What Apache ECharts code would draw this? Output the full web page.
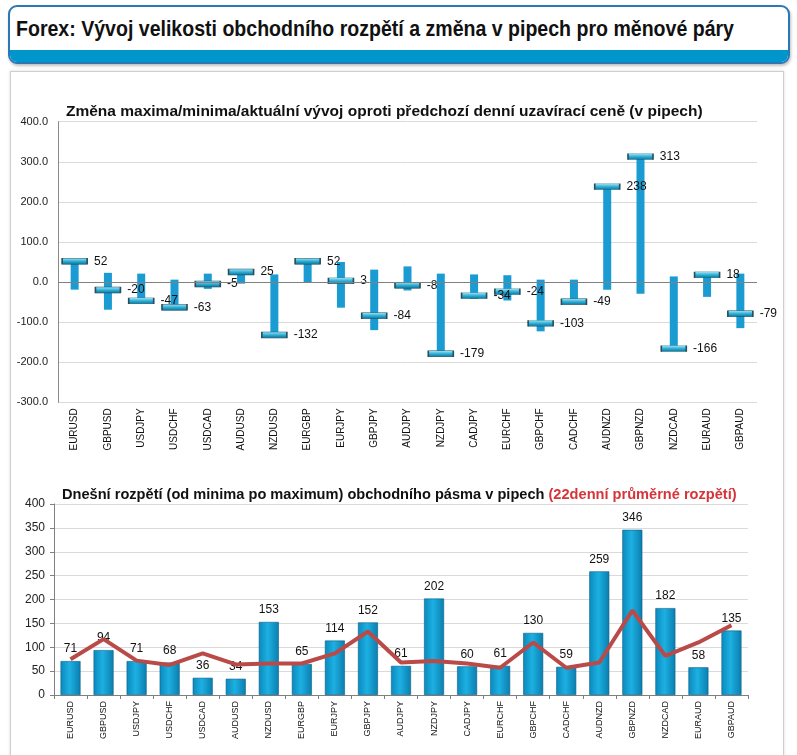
<!DOCTYPE html>
<html>
<head>
<meta charset="utf-8">
<script src="https://cdn.jsdelivr.net/npm/echarts@6/dist/echarts.min.js"></script>
<style>
  html, body { margin: 0; padding: 0; width: 797px; height: 755px; overflow: hidden; background: #fff; font-family: "Liberation Sans", Arial, sans-serif; }
  #header { position: absolute; left: 8px; top: 5px; width: 778px; height: 55px; border: 2px solid #2a78b6; border-radius: 9px; background: #fff; overflow: hidden; box-shadow: 1px 2px 3px rgba(0,0,0,0.25); }
  #header .band { position: absolute; left: 0; right: 0; bottom: 0; height: 12px; background: #0096cc; }
  #header .txt { position: absolute; left: 6px; top: 9px; font-family: "Liberation Sans Narrow", "Liberation Sans", Arial, sans-serif; font-weight: bold; font-size: 22px; color: #111; white-space: nowrap; transform-origin: left top; }
  #panel { position: absolute; left: 10px; top: 71px; width: 772px; height: 700px; border: 1px solid #cfcfcf; box-shadow: 0 0 3px rgba(0,0,0,0.15); background: #fff; }
  #chart { position: absolute; left: 0; top: 0; width: 797px; height: 755px; }
</style>
</head>
<body>
<div id="header"><div class="txt" id="htxt">Forex: Vývoj velikosti obchodního rozpětí a změna v pipech pro měnové páry</div><div class="band"></div></div>
<div id="panel"></div>
<div id="chart"></div>
<script>
// ---- data ----
const categories = ['EURUSD','GBPUSD','USDJPY','USDCHF','USDCAD','AUDUSD','NZDUSD','EURGBP','EURJPY','GBPJPY','AUDJPY','NZDJPY','CADJPY','EURCHF','GBPCHF','CADCHF','AUDNZD','GBPNZD','NZDCAD','EURAUD','GBPAUD'];
const highs    = [55, 23, 21, 6, 21, 28, 19, 58, 50, 31, 39, 21, 19, 17, 6, 6, 241, 315, 14, 21, 21];
const lows     = [-19, -69, -50, -65, -17, -4, -135, -2, -64, -120, -21, -182, -42, -46, -123, -52, -19, -29, -168, -37, -115];
const currents = [52, -20, -47, -63, -5, 25, -132, 52, 3, -84, -8, -179, -34, -24, -103, -49, 238, 313, -166, 18, -79];
const ranges   = [71, 94, 71, 68, 36, 34, 153, 65, 114, 152, 61, 202, 60, 61, 130, 59, 259, 346, 182, 58, 135];
const avg22    = [75, 117, 72, 63, 87, 64, 66, 66, 87, 133, 68, 71, 66, 57, 110, 57, 68, 177, 82, 110, 146];
const topTicks = { min: -300, max: 400, interval: 100 };
const botTicks = { min: 0, max: 400, interval: 50 };

// fit header text width
(function(){
  const el = document.getElementById('htxt');
  const w = el.getBoundingClientRect().width;
  const target = 718;
  el.style.transform = 'scaleX(' + (target / w) + ')';
})();

const font = '"Liberation Sans", Arial, sans-serif';
const chart = echarts.init(document.getElementById('chart'), null, { renderer: 'canvas' });

const rangeData = categories.map((c, i) => [i, lows[i], highs[i]]);
const curData = categories.map((c, i) => [i, currents[i]]);

const option = {
  backgroundColor: 'transparent',
  animation: false,
  textStyle: { fontFamily: font },
  title: [
    { text: 'Změna maxima/minima/aktuální vývoj oproti předchozí denní uzavírací ceně (v pipech)', left: 61, top: 99,
      textStyle: { fontSize: 15.5, fontWeight: 'bold', color: '#111', fontFamily: font } },
    { text: '{b|Dnešní rozpětí (od minima po maximum) obchodního pásma v pipech }{r|(22denní průměrné rozpětí)}', left: 57, top: 482,
      textStyle: { rich: { b: { fontSize: 14.6, fontWeight: 'bold', color: '#111', fontFamily: font }, r: { fontSize: 14.6, fontWeight: 'bold', color: '#d6343a', fontFamily: font } } } }
  ],
  grid: [
    { left: 58, right: 40, top: 121.7, height: 280.6 },
    { left: 54, right: 49, top: 504, height: 191 }
  ],
  xAxis: [
    { type: 'category', gridIndex: 0, data: categories, boundaryGap: true,
      axisLine: { show: false }, axisTick: { show: false },
      axisLabel: { rotate: 90, fontSize: 10, color: '#111', margin: 6, interval: 0 } },
    { type: 'category', gridIndex: 1, data: categories, boundaryGap: true,
      axisLine: { show: true, lineStyle: { color: '#7f7f7f' } },
      axisTick: { show: true, length: 4, lineStyle: { color: '#7f7f7f' } },
      axisLabel: { rotate: 90, fontSize: 9, color: '#111', margin: 6, interval: 0 } }
  ],
  yAxis: [
    { type: 'value', gridIndex: 0, min: topTicks.min, max: topTicks.max, interval: topTicks.interval,
      axisLine: { show: true, lineStyle: { color: '#8a8a8a' } }, axisTick: { show: false },
      axisLabel: { formatter: v => v.toFixed(1), fontSize: 11, color: '#222', margin: 10 },
      splitLine: { lineStyle: { color: '#dadada' } } },
    { type: 'value', gridIndex: 1, min: botTicks.min, max: botTicks.max, interval: botTicks.interval,
      axisLine: { show: true, lineStyle: { color: '#7f7f7f' } },
      axisTick: { show: true, length: 4, lineStyle: { color: '#7f7f7f' } },
      axisLabel: { fontSize: 12, color: '#222', margin: 9 },
      splitLine: { lineStyle: { color: '#dadada' } } }
  ],
  series: [
    { type: 'custom', xAxisIndex: 0, yAxisIndex: 0, data: rangeData, encode: { x: 0, y: [1, 2] }, z: 2,
      renderItem: function (params, api) {
        const x = api.value(0);
        const lo = api.coord([x, api.value(1)]);
        const hi = api.coord([x, api.value(2)]);
        const w = 8;
        return { type: 'rect', shape: { x: lo[0] - w / 2, y: hi[1], width: w, height: lo[1] - hi[1] },
                 style: { fill: '#1a9bd2' } };
      } },
    { type: 'scatter', xAxisIndex: 0, yAxisIndex: 0, data: curData, symbol: 'rect', symbolSize: [25, 6], z: 3,
      itemStyle: { color: new echarts.graphic.LinearGradient(0, 0, 0, 1, [
          { offset: 0, color: '#a6e6f4' }, { offset: 0.5, color: '#2fb0d8' }, { offset: 1, color: '#0c6f94' }]),
        borderColor: '#274e5c', borderWidth: 0.8, opacity: 1 },
      label: { show: true, position: 'right', distance: 6, fontSize: 12, color: '#111', formatter: p => p.value[1] },
      markLine: { silent: true, symbol: 'none', label: { show: false }, lineStyle: { color: '#808080', width: 1, type: 'solid' },
        data: [{ yAxis: 0 }] } },
    { type: 'bar', xAxisIndex: 1, yAxisIndex: 1, data: ranges, barWidth: 20, z: 2,
      itemStyle: { color: new echarts.graphic.LinearGradient(0, 0, 1, 0, [
          { offset: 0, color: '#0a89bc' }, { offset: 0.45, color: '#1db0e2' }, { offset: 1, color: '#0a7eae' }]),
        borderColor: '#0d5f86', borderWidth: 0.6 },
      label: { show: true, position: 'top', distance: 6, fontSize: 12, color: '#111' } },
    { type: 'line', xAxisIndex: 1, yAxisIndex: 1, data: avg22, symbol: 'none', z: 4,
      lineStyle: { color: '#b94a48', width: 4 } }
  ]
};
chart.setOption(option);
</script>
</body>
</html>
